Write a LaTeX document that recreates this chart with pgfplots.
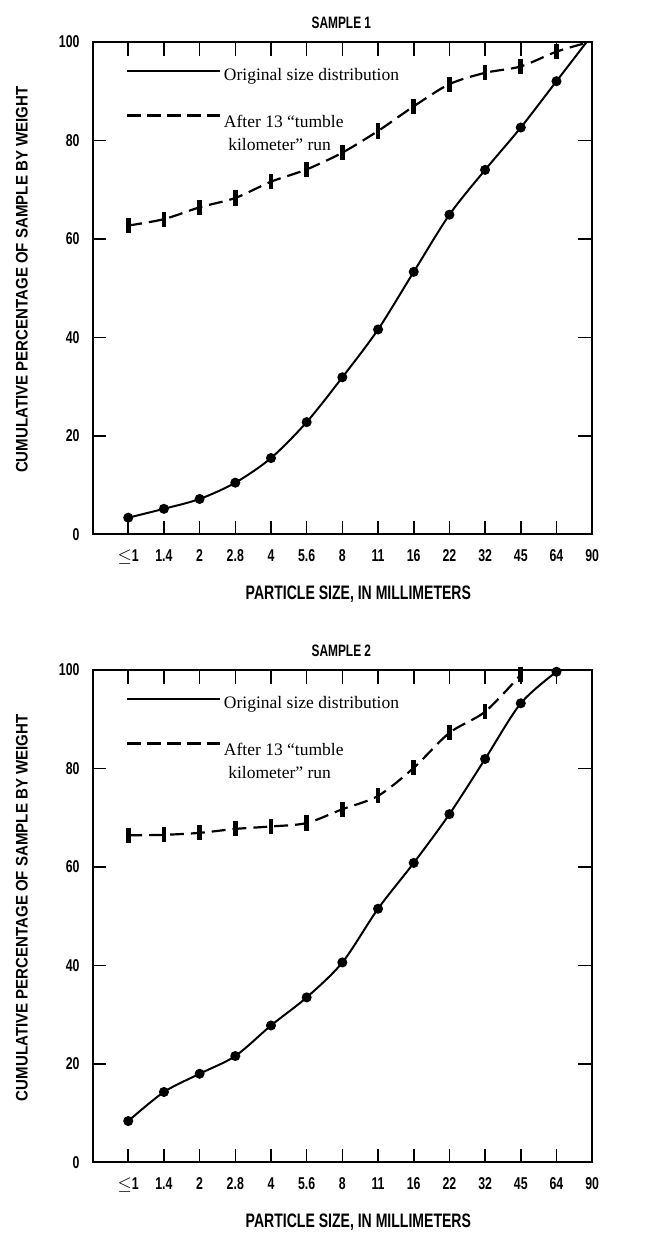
\documentclass[border=0pt]{standalone}
\usepackage{fontspec}
\setmainfont{Liberation Serif}
\newfontfamily\cond[FakeStretch=0.72]{Liberation Sans}
\newfontfamily\condy[FakeStretch=0.9]{Liberation Sans}
\usepackage{pgfplots}
\pgfplotsset{compat=1.18}
\pgfplotsset{
  sedstyle/.style={
    scale only axis, width=251pt, height=247.5pt,
    xmin=-1, xmax=13, ymin=0, ymax=100,
    xtick={0,...,13},
    xticklabels={$\leq$1,1.4,2,2.8,4,5.6,8,11,16,22,32,45,64,90},
    ytick={0,20,40,60,80,100},
    yticklabels={0,20,40,60,80,100},
    tick align=inside, major tick length=7pt,
    axis line style={line width=1pt},
    tick style={line width=0.8pt, black},
    ticklabel style={font=\cond\bfseries\fontsize{8.6}{10}\selectfont},
    xticklabel style={yshift=-4pt, text height=6.3pt, text depth=1pt, anchor=north},
    yticklabel style={xshift=-3pt},
    xlabel={PARTICLE SIZE, IN MILLIMETERS},
    ylabel={CUMULATIVE PERCENTAGE OF SAMPLE BY WEIGHT},
    xlabel style={font=\cond\bfseries\fontsize{9.8}{11}\selectfont, at={(axis description cs:0.532,-0.121)}, anchor=center},
    ylabel style={font=\condy\bfseries\fontsize{8.4}{10}\selectfont, at={(axis description cs:-0.1414,0.517)}, anchor=center},
    title style={font=\cond\bfseries\fontsize{8.3}{10}\selectfont, at={(axis description cs:0.498,1)}, anchor=center, yshift=3.5pt},
    legend cell align=left,
    legend image code/.code={\draw[#1] (0pt,2.6pt) -- (46.5pt,2.6pt);},
    legend style={draw=none, fill=none, at={(axis description cs:0.0538,0.955)}, anchor=north west,
      font=\fontsize{8.8}{11.5}\selectfont, row sep=14pt,
      nodes={inner sep=0pt},
      /tikz/every odd column/.append style={column sep=1.5pt}},
    orig/.style={black, line width=1pt, smooth, mark=*, mark size=2pt},
    after/.style={black, line width=1.1pt, smooth, dash pattern=on 7pt off 3.5pt,
      mark=|, mark size=3.8pt, mark options={solid, line width=2.4pt}},
  }
}
\begin{document}
\begin{tikzpicture}
\path (0,0) rectangle (327pt,618.5pt);
\begin{axis}[sedstyle, at={(46.5pt,350pt)}, anchor=south west, title={SAMPLE 1}]
\addplot[orig, mark indices={1,...,13}, forget plot] coordinates {
(0,3.4) (1,5.2) (2,7.2) (3,10.5) (4,15.5) (5,22.8) (6,31.9) (7,41.6)
(8,53.3) (9,64.9) (10,74.0) (11,82.6) (12,92.0) (12.85,100)};
\addplot[after, mark indices={1,...,13}, forget plot] coordinates {
(0,62.7) (1,64.0) (2,66.4) (3,68.3) (4,71.6) (5,74.1) (6,77.5) (7,81.9)
(8,86.9) (9,91.4) (10,93.7) (11,95.0) (12,98.0) (12.95,100)};
\addlegendimage{black, line width=1.1pt}
\addlegendentry{Original size distribution}
\addlegendimage{black, line width=1.3pt, dash pattern=on 7pt off 3pt}
\addlegendentry{\begin{tabular}[t]{@{}l@{}}After 13 ``tumble\\ \ kilometer'' run\end{tabular}}
\end{axis}
\begin{axis}[sedstyle, at={(46.5pt,34.5pt)}, anchor=south west, title={SAMPLE 2}]
\addplot[orig, forget plot] coordinates {
(0,8.4) (1,14.3) (2,18.0) (3,21.6) (4,27.8) (5,33.5) (6,40.6) (7,51.5)
(8,60.8) (9,70.7) (10,81.9) (11,93.2) (12,99.6)};
\addplot[after, forget plot] coordinates {
(0,66.4) (1,66.5) (2,66.9) (3,67.7) (4,68.2) (5,68.9) (6,71.7) (7,74.4)
(8,80.1) (9,87.2) (10,91.5) (11,99.0)};
\addlegendimage{black, line width=1.1pt}
\addlegendentry{Original size distribution}
\addlegendimage{black, line width=1.3pt, dash pattern=on 7pt off 3pt}
\addlegendentry{\begin{tabular}[t]{@{}l@{}}After 13 ``tumble\\ \ kilometer'' run\end{tabular}}
\end{axis}
\end{tikzpicture}
\end{document}
